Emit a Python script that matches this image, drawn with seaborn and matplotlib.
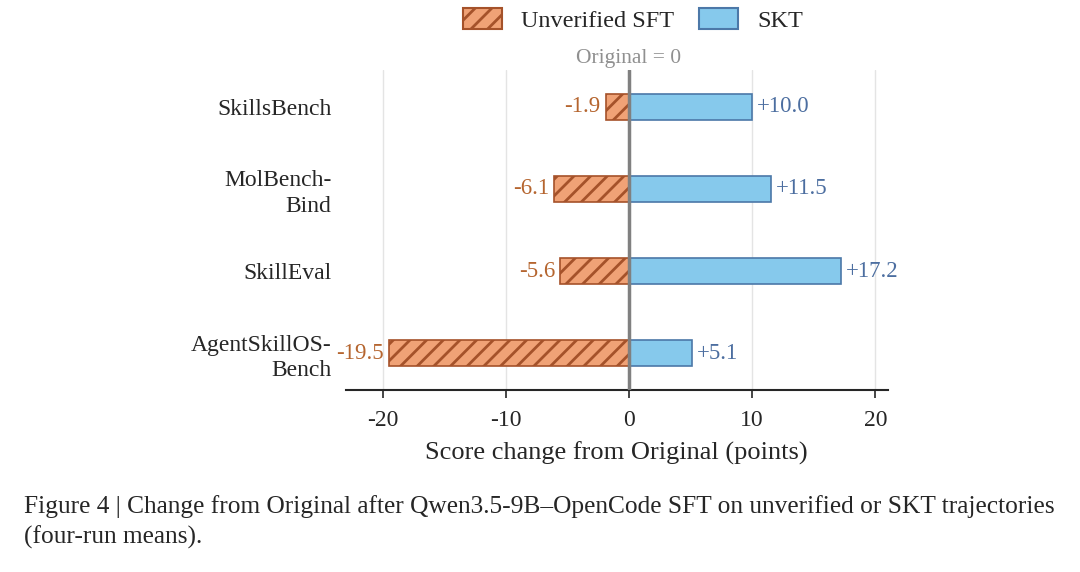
import pandas as pd
import matplotlib.pyplot as plt
import seaborn as sns

sns.set_style("white")
plt.rcParams['font.family'] = ['Liberation Serif', 'DejaVu Serif']
plt.rcParams['axes.unicode_minus'] = False
plt.rcParams['hatch.linewidth'] = 2.0
plt.rcParams['hatch.color'] = "#a5522a"

# =====================================================
# DATA
# =====================================================
benchmarks = ["SkillsBench", "MolBench-\nBind", "SkillEval", "AgentSkillOS-\nBench"]
unverified = [-1.9, -6.1, -5.6, -19.5]
skt = [10.0, 11.5, 17.2, 5.1]

df = pd.DataFrame({
    "benchmark": benchmarks * 2,
    "change": unverified + skt,
    "method": ["Unverified SFT"] * 4 + ["SKT"] * 4,
})

# =====================================================
# PLOT
# =====================================================
fig = plt.figure(figsize=(10.8, 5.72), dpi=100)
ax = fig.add_axes([0.32, 0.318, 0.502, 0.56])

palette = {"Unverified SFT": "#f0a276", "SKT": "#86c9ec"}
sns.barplot(data=df, y="benchmark", x="change", hue="method", palette=palette,
            dodge=False, width=0.32, orient="h", ax=ax, saturation=1)

for p in ax.patches:
    if p.get_width() < 0:
        p.set_hatch("//")
        p.set_edgecolor("#a5522a")
    else:
        p.set_edgecolor("#4c78a8")
    p.set_linewidth(1.2)

for i, (u, s) in enumerate(zip(unverified, skt)):
    ax.text(u - 0.4, i, f"{u:.1f}", ha="right", va="center", color="#b5652f", fontsize=16.5)
    ax.text(s + 0.4, i, f"+{s:.1f}", ha="left", va="center", color="#4c6ea0", fontsize=16.5)

ax.axvline(0, color="#808080", lw=2.5, zorder=3)
ax.text(0, -0.47, "Original = 0", ha="center", va="bottom", color="#909090", fontsize=15.5)

ax.set_xlim(-23, 21)
ax.set_ylim(3.45, -0.45)
ax.set_xticks([-20, -10, 0, 10, 20])
ax.xaxis.grid(True, color="#e4e4e4", lw=1)
ax.set_axisbelow(True)
ax.tick_params(axis="x", labelsize=17, length=6, width=1.2, direction="out", bottom=True, pad=8)
ax.tick_params(axis="y", labelsize=17, length=0, pad=10)
for t in ax.get_yticklabels():
    t.set_linespacing(1.3)
ax.set_xlabel("Score change from Original (points)", fontsize=19, labelpad=8)
ax.set_ylabel("")
for side in ["top", "right", "left"]:
    ax.spines[side].set_visible(False)
ax.spines["bottom"].set_linewidth(1.5)

handles, labels = ax.get_legend_handles_labels()
for h in handles:
    if h.get_label() == "Unverified SFT":
        h.set_hatch("//")
        h.set_edgecolor("#a5522a")
    else:
        h.set_edgecolor("#4c78a8")
    h.set_linewidth(1.5)
ax.legend(handles, labels, loc="lower center", bbox_to_anchor=(0.53, 1.05), ncol=2,
          frameon=False, fontsize=17.5, handlelength=1.6, handleheight=1.0,
          columnspacing=1.0, handletextpad=0.8)

fig.text(0.022, 0.04,
         "Figure 4 | Change from Original after Qwen3.5-9B–OpenCode SFT on unverified or SKT trajectories\n(four-run means).",
         fontsize=18.3, va="bottom", ha="left", linespacing=1.45)

plt.savefig("out.png")
